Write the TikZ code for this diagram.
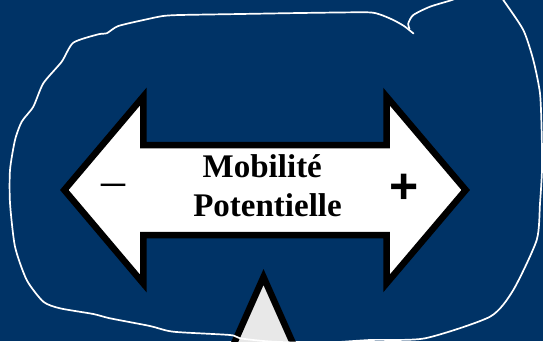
\documentclass[tikz,border=0pt]{standalone}
\usepackage{fontspec}
\setmainfont{Liberation Serif}
\newfontfamily\signfont{Liberation Sans}
\usetikzlibrary{positioning}
\definecolor{navy}{HTML}{003366}
\definecolor{pointergrey}{HTML}{E8E8E8}
\tikzset{
  sketchline/.style={draw=white, line width=1.7pt, line join=round, line cap=round},
  dblarrow/.style={draw=black, fill=white, line width=6.5pt, line join=miter},
  pointer/.style={draw=black, fill=pointergrey, line width=6.5pt, line join=miter},
  caption/.style={font=\bfseries\fontsize{33}{39}\selectfont, inner sep=0pt, anchor=base},
  signlabel/.style={inner sep=0pt, anchor=base},
}

\begin{document}
\begin{tikzpicture}[x=1pt, y=-1pt]
\useasboundingbox (0,0) rectangle (543,341);
\fill[navy] (0,0) rectangle (543,341);
\clip (0,0) rectangle (543,341);
% pointer under the arrow
\draw[pointer] (263.5,277) -- (327,420) -- (200,420) -- cycle;
% double arrow
\draw[dblarrow] (64.3,190) -- (143.25,96.6) -- (143.25,145) -- (386.5,145)
  -- (386.5,96.6) -- (465.7,190) -- (386.5,283.4) -- (386.5,235)
  -- (143.25,235) -- (143.25,283.4) -- cycle;
\node[caption] (mobilite) at (262.3,177.5) {Mobilité};
\node[caption] (potentielle) at (267.5,216.7) {Potentielle};
\node[signlabel, font=\fontsize{48}{48}\selectfont] (moins) at (113.8,196.5) {–};
\node[signlabel, font=\signfont\bfseries\fontsize{50}{50}\selectfont] (plus) at (404.5,203.5) {+};
% freehand loop
\draw[sketchline] plot[smooth, tension=0.4] coordinates {
  (409.5,29) (408.3,23.3) (413.3,15) (430,6.7) (452,0) (458,-3)};
\draw[sketchline] plot[smooth, tension=0.4] coordinates {
  (413.5,33.5) (404,26) (393.3,20) (380,14.5) (366.7,12.3) (300,13) (240,14)
  (180,15) (163,16) (146.7,19.3) (118.3,26) (106.7,33.3) (98.3,34.3)
  (73.3,42.7) (61.7,61.7) (43.3,83.3) (33.3,106.7) (21.7,121.7) (15,140)
  (10,170) (10,203) (15,246.7) (26.7,280) (43.3,301.7) (60,308.3) (93.3,314)
  (110,318.3) (150,326) (173.3,331.7) (230,335) (240,338.3) (270,341.5)
  (320,343) (370,340) (425,338.3) (490,316.7) (513.3,290) (536.7,240)
  (540,203.3) (542,170) (541.7,133.3) (540,93.3) (533.3,60) (523.3,30)
  (503.3,0) (500,-5)};
\end{tikzpicture}
\end{document}
